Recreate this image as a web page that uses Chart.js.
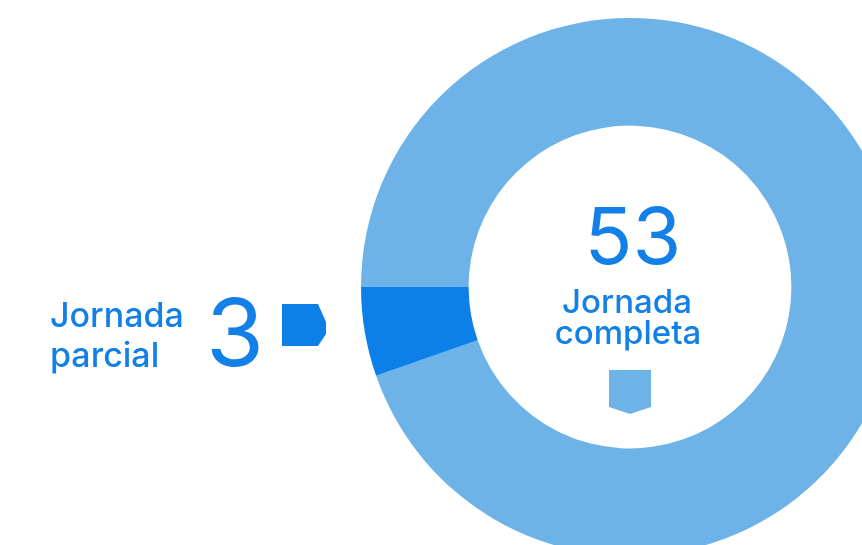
<!DOCTYPE html>
<html lang="es">
<head>
<meta charset="utf-8">
<title>Tipo de jornada</title>
<script src="https://cdn.jsdelivr.net/npm/chart.js@4/dist/chart.umd.min.js"></script>
<style>
  html, body { margin: 0; padding: 0; background: #ffffff; }
  #wrap { position: relative; width: 862px; height: 545px; overflow: hidden; }
  #chart { position: absolute; left: 0; top: 0; }
</style>
</head>
<body>
<div id="wrap">
  <canvas id="chart" width="1260" height="574"></canvas>
</div>
<script>
// Number of contracts by type of working day
const categories = ['Jornada completa', 'Jornada parcial'];
const values = [53, 3];
const colors = ['#6DB3E7', '#0C80E8'];
const textColor = '#1280E6';
const FONT = 'Inter, "Noto Sans", sans-serif';

// Labels and small pointer markers drawn on top of the ring
const labelsPlugin = {
  id: 'ringLabels',
  afterDraw(chart) {
    const ctx = chart.ctx;
    const arc = chart.getDatasetMeta(0).data[0];
    const cx = arc.x, cy = arc.y;
    ctx.save();
    ctx.fillStyle = textColor;
    ctx.textBaseline = 'alphabetic';

    // centre: full-time
    ctx.textAlign = 'center';
    ctx.font = '400 79px ' + FONT;
    ctx.fillText(String(values[0]), cx + 3, cy - 23);
    ctx.font = '500 33px ' + FONT;
    ctx.fillText('Jornada', cx - 3, cy + 26);
    ctx.fillText('completa', cx - 2, cy + 57);

    // pointer below the centre label
    ctx.fillStyle = colors[0];
    ctx.beginPath();
    ctx.moveTo(cx - 21, cy + 83);
    ctx.lineTo(cx + 21, cy + 83);
    ctx.lineTo(cx + 21, cy + 120);
    ctx.lineTo(cx, cy + 127);
    ctx.lineTo(cx - 21, cy + 120);
    ctx.closePath();
    ctx.fill();

    // left side: part-time
    ctx.fillStyle = textColor;
    ctx.textAlign = 'left';
    ctx.font = '500 34px ' + FONT;
    ctx.fillText('Jornada', 50, 327);
    ctx.fillText('parcial', 50, 367);
    ctx.font = '400 94px ' + FONT;
    ctx.fillText(String(values[1]), 206, 366);

    // pointer towards the ring
    ctx.fillStyle = colors[1];
    ctx.beginPath();
    ctx.moveTo(282, 304);
    ctx.lineTo(318, 304);
    ctx.lineTo(326, 322);
    ctx.lineTo(326, 334);
    ctx.lineTo(318, 346);
    ctx.lineTo(282, 346);
    ctx.closePath();
    ctx.fill();
    ctx.restore();
  }
};

new Chart(document.getElementById('chart'), {
  type: 'doughnut',
  data: {
    labels: categories,
    datasets: [{
      data: values,
      backgroundColor: colors,
      borderWidth: 0,
      hoverOffset: 0
    }]
  },
  options: {
    responsive: false,
    maintainAspectRatio: false,
    animation: false,
    events: [],
    rotation: 270,
    cutout: '60%',
    layout: { padding: { top: 18, bottom: 18, left: 0, right: 0 } },
    plugins: {
      legend: { display: false },
      tooltip: { enabled: false }
    }
  },
  plugins: [labelsPlugin]
});
</script>
</body>
</html>
